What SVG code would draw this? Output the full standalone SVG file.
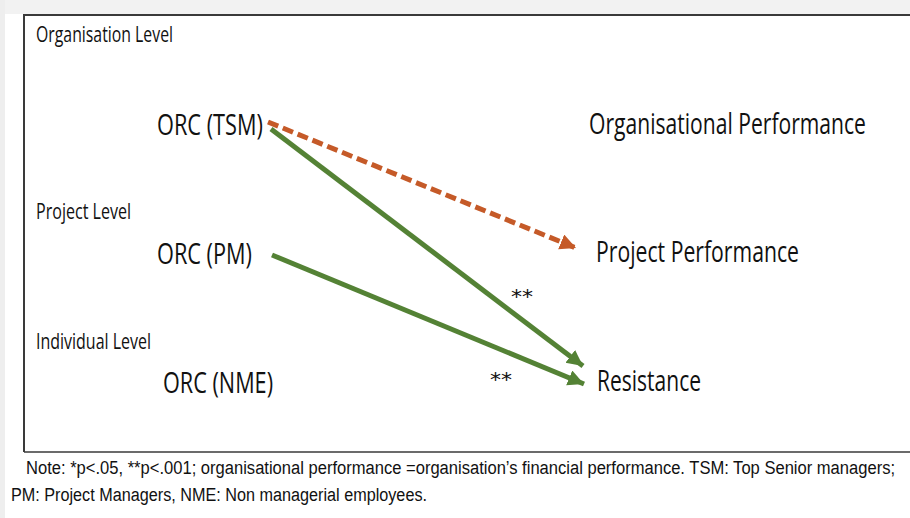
<svg xmlns="http://www.w3.org/2000/svg" width="910" height="518" viewBox="0 0 910 518">
<style>
.lvl{font-family:"Open Sans","Noto Sans",sans-serif;font-size:21px;fill:#111}
.node{font-family:"Open Sans","Noto Sans",sans-serif;font-size:29px;fill:#111}
.star{font-family:"DejaVu Sans",sans-serif;font-size:20px;fill:#111}
.note{font-family:"Liberation Sans",Arial,sans-serif;font-size:19px;fill:#111}
.g{stroke:#548235;stroke-width:5;fill:none}
.o{stroke:#C55A28;stroke-width:5;fill:none;stroke-dasharray:11 5}
</style>
<defs>
<marker id="ag" markerUnits="userSpaceOnUse" markerWidth="20" markerHeight="20" refX="16" refY="8" orient="auto"><path d="M0,0 L16,8 L0,16 Z" fill="#548235"/></marker>
<marker id="ao" markerUnits="userSpaceOnUse" markerWidth="20" markerHeight="20" refX="16" refY="8" orient="auto"><path d="M0,0 L16,8 L0,16 Z" fill="#C55A28"/></marker>
</defs>
<rect x="0" y="0" width="910" height="518" fill="#ffffff"/>
<rect x="0" y="0" width="910" height="14" fill="#f2f2f2"/>
<rect x="0" y="0" width="5" height="518" fill="#eeeeee"/>
<path d="M24,452 L24,15 L910,15" fill="none" stroke="#3a3a3a" stroke-width="2"/>
<path d="M24,452 L910,452" fill="none" stroke="#3a3a3a" stroke-width="1.5"/>
<g id="levels">
<text class="lvl" transform="translate(36,42) scale(0.75,1)" textLength="182.7" lengthAdjust="spacingAndGlyphs">Organisation Level</text>
<text class="lvl" transform="translate(36,219) scale(0.75,1)" textLength="126.7" lengthAdjust="spacingAndGlyphs">Project Level</text>
<text class="lvl" transform="translate(36,349) scale(0.75,1)" textLength="153.3" lengthAdjust="spacingAndGlyphs">Individual Level</text>
</g>
<g id="orc-tsm"><text class="node" transform="translate(157,135) scale(0.75,1)" textLength="141.3" lengthAdjust="spacingAndGlyphs">ORC (TSM)</text></g>
<g id="orc-pm"><text class="node" transform="translate(157,264) scale(0.75,1)" textLength="126.7" lengthAdjust="spacingAndGlyphs">ORC (PM)</text></g>
<g id="orc-nme"><text class="node" transform="translate(163,393) scale(0.75,1)" textLength="146.7" lengthAdjust="spacingAndGlyphs">ORC (NME)</text></g>
<g id="org-perf"><text class="node" transform="translate(589,134) scale(0.75,1)" textLength="369.3" lengthAdjust="spacingAndGlyphs">Organisational Performance</text></g>
<g id="proj-perf"><text class="node" transform="translate(596,262) scale(0.75,1)" textLength="270.7" lengthAdjust="spacingAndGlyphs">Project Performance</text></g>
<g id="resistance"><text class="node" transform="translate(597,391) scale(0.75,1)" textLength="138.7" lengthAdjust="spacingAndGlyphs">Resistance</text></g>
<g id="connectors">
<line class="o" x1="268" y1="122" x2="576" y2="248" marker-end="url(#ao)"/>
<line class="g" x1="271" y1="129" x2="583" y2="366" marker-end="url(#ag)"/>
<line class="g" x1="272" y1="255" x2="584" y2="384" marker-end="url(#ag)"/>
<text class="star" x="511" y="303" textLength="22" lengthAdjust="spacingAndGlyphs">**</text>
<text class="star" x="490" y="386" textLength="22" lengthAdjust="spacingAndGlyphs">**</text>
</g>
<g id="note">
<text class="note" transform="translate(26,474) scale(0.85,1)" textLength="1022.4" lengthAdjust="spacingAndGlyphs">Note: *p&lt;.05, **p&lt;.001; organisational performance =organisation’s financial performance. TSM: Top Senior managers;</text>
<text class="note" transform="translate(11,501) scale(0.85,1)" textLength="489.4" lengthAdjust="spacingAndGlyphs">PM: Project Managers, NME: Non managerial employees.</text>
</g>
</svg>
